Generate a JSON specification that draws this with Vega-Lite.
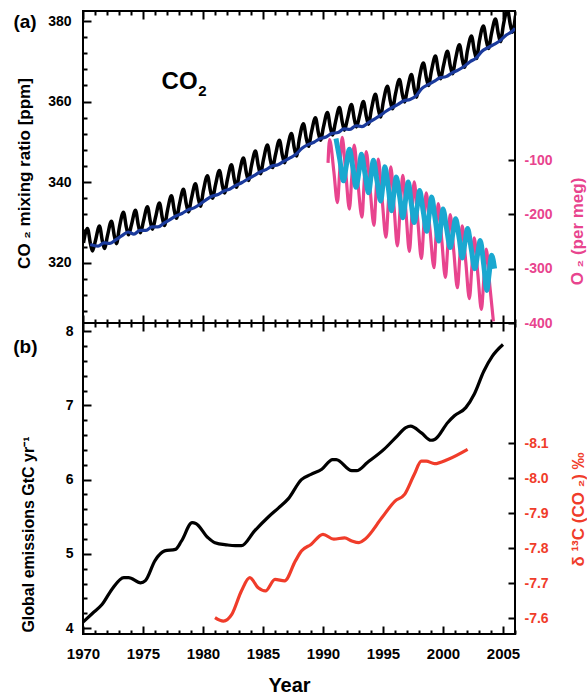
{
  "$schema": "https://vega.github.io/schema/vega-lite/v6.json",
  "padding": {"left": 12, "top": 9, "right": 0, "bottom": 0},
  "config": {
    "font": "Liberation Sans",
    "view": {"stroke": "black", "strokeWidth": 2},
    "axis": {"domain": false, "ticks": true, "tickColor": "black", "tickWidth": 2, "tickOpacity": 1, "zindex": 1, "labelFont": "Liberation Sans", "labelFontWeight": "bold", "labelFontSize": 14, "labelColor": "black", "titleFont": "Liberation Sans", "titleFontWeight": "bold", "titleColor": "black", "grid": false, "labelOverlap": false, "labelFlush": false, "labelBound": false},
    "text": {"font": "Liberation Sans", "fontWeight": "bold"}
  },
  "datasets": {
    "mlo": [
      {"year":1970.04,"value":324.9},{"year":1970.37,"value":328.5},{"year":1970.62,"value":324.7},{"year":1970.79,"value":322.9},
      {"year":1971.04,"value":325.5},{"year":1971.37,"value":329.1},{"year":1971.62,"value":325.3},{"year":1971.79,"value":323.5},
      {"year":1972.04,"value":326.7},{"year":1972.37,"value":330.3},{"year":1972.62,"value":326.5},{"year":1972.79,"value":324.7},
      {"year":1973.04,"value":328.9},{"year":1973.37,"value":332.5},{"year":1973.62,"value":328.7},{"year":1973.79,"value":326.9},
      {"year":1974.04,"value":329.4},{"year":1974.37,"value":333.0},{"year":1974.62,"value":329.2},{"year":1974.79,"value":327.4},
      {"year":1975.04,"value":330.3},{"year":1975.37,"value":333.9},{"year":1975.62,"value":330.1},{"year":1975.79,"value":328.3},
      {"year":1976.04,"value":331.2},{"year":1976.37,"value":334.8},{"year":1976.62,"value":331.0},{"year":1976.79,"value":329.2},
      {"year":1977.04,"value":333.0},{"year":1977.37,"value":336.6},{"year":1977.62,"value":332.8},{"year":1977.79,"value":331.0},
      {"year":1978.04,"value":334.6},{"year":1978.37,"value":338.2},{"year":1978.62,"value":334.4},{"year":1978.79,"value":332.6},
      {"year":1979.04,"value":336.0},{"year":1979.37,"value":339.6},{"year":1979.62,"value":335.8},{"year":1979.79,"value":334.0},
      {"year":1980.04,"value":338.0},{"year":1980.37,"value":341.6},{"year":1980.62,"value":337.8},{"year":1980.79,"value":336.0},
      {"year":1981.04,"value":339.3},{"year":1981.37,"value":342.9},{"year":1981.62,"value":339.1},{"year":1981.79,"value":337.3},
      {"year":1982.04,"value":340.7},{"year":1982.37,"value":344.3},{"year":1982.62,"value":340.5},{"year":1982.79,"value":338.7},
      {"year":1983.04,"value":342.4},{"year":1983.37,"value":346.0},{"year":1983.62,"value":342.2},{"year":1983.79,"value":340.4},
      {"year":1984.04,"value":344.1},{"year":1984.37,"value":347.7},{"year":1984.62,"value":343.9},{"year":1984.79,"value":342.1},
      {"year":1985.04,"value":345.6},{"year":1985.37,"value":349.2},{"year":1985.62,"value":345.4},{"year":1985.79,"value":343.6},
      {"year":1986.04,"value":346.8},{"year":1986.37,"value":350.4},{"year":1986.62,"value":346.6},{"year":1986.79,"value":344.8},
      {"year":1987.04,"value":348.5},{"year":1987.37,"value":352.1},{"year":1987.62,"value":348.3},{"year":1987.79,"value":346.5},
      {"year":1988.04,"value":350.9},{"year":1988.37,"value":354.5},{"year":1988.62,"value":350.7},{"year":1988.79,"value":348.9},
      {"year":1989.04,"value":352.4},{"year":1989.37,"value":356.0},{"year":1989.62,"value":352.2},{"year":1989.79,"value":350.4},
      {"year":1990.04,"value":353.7},{"year":1990.37,"value":357.3},{"year":1990.62,"value":353.5},{"year":1990.79,"value":351.7},
      {"year":1991.04,"value":354.9},{"year":1991.37,"value":358.5},{"year":1991.62,"value":354.7},{"year":1991.79,"value":352.9},
      {"year":1992.04,"value":355.7},{"year":1992.37,"value":359.3},{"year":1992.62,"value":355.5},{"year":1992.79,"value":353.7},
      {"year":1993.04,"value":356.4},{"year":1993.37,"value":360.0},{"year":1993.62,"value":356.2},{"year":1993.79,"value":354.4},
      {"year":1994.04,"value":358.2},{"year":1994.37,"value":361.8},{"year":1994.62,"value":358.0},{"year":1994.79,"value":356.2},
      {"year":1995.04,"value":360.2},{"year":1995.37,"value":363.8},{"year":1995.62,"value":360.0},{"year":1995.79,"value":358.2},
      {"year":1996.04,"value":361.9},{"year":1996.37,"value":365.5},{"year":1996.62,"value":361.7},{"year":1996.79,"value":359.9},
      {"year":1997.04,"value":363.1},{"year":1997.37,"value":366.7},{"year":1997.62,"value":362.9},{"year":1997.79,"value":361.1},
      {"year":1998.04,"value":366.0},{"year":1998.37,"value":369.6},{"year":1998.62,"value":365.8},{"year":1998.79,"value":364.0},
      {"year":1999.04,"value":367.7},{"year":1999.37,"value":371.3},{"year":1999.62,"value":367.5},{"year":1999.79,"value":365.7},
      {"year":2000.04,"value":368.9},{"year":2000.37,"value":372.5},{"year":2000.62,"value":368.7},{"year":2000.79,"value":366.9},
      {"year":2001.04,"value":370.5},{"year":2001.37,"value":374.1},{"year":2001.62,"value":370.3},{"year":2001.79,"value":368.5},
      {"year":2002.04,"value":372.7},{"year":2002.37,"value":376.3},{"year":2002.62,"value":372.5},{"year":2002.79,"value":370.7},
      {"year":2003.04,"value":375.2},{"year":2003.37,"value":378.8},{"year":2003.62,"value":375.0},{"year":2003.79,"value":373.2},
      {"year":2004.04,"value":376.9},{"year":2004.37,"value":380.5},{"year":2004.62,"value":376.7},{"year":2004.79,"value":374.9},
      {"year":2005.04,"value":379.2},{"year":2005.37,"value":382.8},{"year":2005.62,"value":379.0},{"year":2005.79,"value":377.2},
      {"year":2006.04,"value":381.3}
    ],
    "spo": [
      {"year":1970.6,"value":324.5},
      {"year":1971.25,"value":324.1},{"year":1971.75,"value":324.9},
      {"year":1972.25,"value":324.8},{"year":1972.75,"value":325.7},
      {"year":1973.25,"value":326.7},{"year":1973.75,"value":327.6},
      {"year":1974.25,"value":327.1},{"year":1974.75,"value":328.0},
      {"year":1975.25,"value":328.0},{"year":1975.75,"value":328.9},
      {"year":1976.25,"value":328.9},{"year":1976.75,"value":329.8},
      {"year":1977.25,"value":330.7},{"year":1977.75,"value":331.6},
      {"year":1978.25,"value":332.2},{"year":1978.75,"value":333.1},
      {"year":1979.25,"value":333.6},{"year":1979.75,"value":334.5},
      {"year":1980.25,"value":335.6},{"year":1980.75,"value":336.5},
      {"year":1981.25,"value":336.9},{"year":1981.75,"value":337.8},
      {"year":1982.25,"value":338.3},{"year":1982.75,"value":339.2},
      {"year":1983.25,"value":339.9},{"year":1983.75,"value":340.8},
      {"year":1984.25,"value":341.6},{"year":1984.75,"value":342.5},
      {"year":1985.25,"value":343.1},{"year":1985.75,"value":344.0},
      {"year":1986.25,"value":344.3},{"year":1986.75,"value":345.2},
      {"year":1987.25,"value":346.0},{"year":1987.75,"value":346.9},
      {"year":1988.25,"value":348.4},{"year":1988.75,"value":349.3},
      {"year":1989.25,"value":349.9},{"year":1989.75,"value":350.8},
      {"year":1990.25,"value":351.2},{"year":1990.75,"value":352.1},
      {"year":1991.25,"value":352.3},{"year":1991.75,"value":353.2},
      {"year":1992.25,"value":353.1},{"year":1992.75,"value":354.0},
      {"year":1993.25,"value":353.8},{"year":1993.75,"value":354.7},
      {"year":1994.25,"value":355.6},{"year":1994.75,"value":356.5},
      {"year":1995.25,"value":357.6},{"year":1995.75,"value":358.5},
      {"year":1996.25,"value":359.3},{"year":1996.75,"value":360.2},
      {"year":1997.25,"value":360.5},{"year":1997.75,"value":361.4},
      {"year":1998.25,"value":363.3},{"year":1998.75,"value":364.2},
      {"year":1999.25,"value":365.0},{"year":1999.75,"value":365.9},
      {"year":2000.25,"value":366.2},{"year":2000.75,"value":367.1},
      {"year":2001.25,"value":367.8},{"year":2001.75,"value":368.7},
      {"year":2002.25,"value":369.9},{"year":2002.75,"value":370.8},
      {"year":2003.25,"value":372.5},{"year":2003.75,"value":373.4},
      {"year":2004.25,"value":374.2},{"year":2004.75,"value":375.1},
      {"year":2005.25,"value":376.5},{"year":2005.75,"value":377.4},
      {"year":2006.0,"value":378.2}
    ],
    "alt": [
      {"year":1990.42,"value":-105},{"year":1990.55,"value":-62},{"year":1990.9,"value":-120},
      {"year":1991.2,"value":-178},{"year":1991.4,"value":-118},{"year":1991.6,"value":-58},{"year":1991.9,"value":-124},
      {"year":1992.2,"value":-190},{"year":1992.4,"value":-131},{"year":1992.6,"value":-72},{"year":1992.9,"value":-139},
      {"year":1993.25,"value":-205},{"year":1993.42,"value":-145},{"year":1993.6,"value":-84},{"year":1993.92,"value":-152},
      {"year":1994.25,"value":-220},{"year":1994.42,"value":-159},{"year":1994.6,"value":-98},{"year":1994.92,"value":-170},
      {"year":1995.25,"value":-242},{"year":1995.45,"value":-177},{"year":1995.65,"value":-112},{"year":1995.92,"value":-185},
      {"year":1996.2,"value":-258},{"year":1996.42,"value":-193},{"year":1996.65,"value":-128},{"year":1996.92,"value":-198},
      {"year":1997.2,"value":-268},{"year":1997.4,"value":-204},{"year":1997.6,"value":-140},{"year":1997.9,"value":-211},
      {"year":1998.2,"value":-281},{"year":1998.4,"value":-221},{"year":1998.6,"value":-160},{"year":1998.92,"value":-229},
      {"year":1999.25,"value":-298},{"year":1999.42,"value":-239},{"year":1999.6,"value":-180},{"year":1999.9,"value":-248},
      {"year":2000.2,"value":-316},{"year":2000.4,"value":-258},{"year":2000.6,"value":-200},{"year":2000.9,"value":-268},
      {"year":2001.2,"value":-335},{"year":2001.4,"value":-278},{"year":2001.6,"value":-221},{"year":2001.9,"value":-288},
      {"year":2002.2,"value":-355},{"year":2002.4,"value":-299},{"year":2002.6,"value":-243},{"year":2002.9,"value":-309},
      {"year":2003.2,"value":-375},{"year":2003.4,"value":-320},{"year":2003.6,"value":-264},{"year":2003.9,"value":-331},
      {"year":2004.2,"value":-397}
    ],
    "cgo": [
      {"year":1991.08,"value":-60},{"year":1991.4,"value":-99},{"year":1991.7,"value":-138},{"year":1991.95,"value":-109},
      {"year":1992.2,"value":-80},{"year":1992.5,"value":-115},{"year":1992.75,"value":-150},{"year":1993.0,"value":-120},
      {"year":1993.2,"value":-89},{"year":1993.5,"value":-125},{"year":1993.8,"value":-160},{"year":1994.0,"value":-130},
      {"year":1994.2,"value":-100},{"year":1994.5,"value":-138},{"year":1994.8,"value":-175},{"year":1995.0,"value":-144},
      {"year":1995.15,"value":-112},{"year":1995.45,"value":-152},{"year":1995.7,"value":-193},{"year":1995.9,"value":-162},
      {"year":1996.1,"value":-131},{"year":1996.4,"value":-169},{"year":1996.65,"value":-206},{"year":1996.88,"value":-173},
      {"year":1997.1,"value":-140},{"year":1997.35,"value":-178},{"year":1997.6,"value":-215},{"year":1997.85,"value":-186},
      {"year":1998.05,"value":-156},{"year":1998.35,"value":-194},{"year":1998.65,"value":-231},{"year":1998.85,"value":-200},
      {"year":1999.05,"value":-168},{"year":1999.35,"value":-209},{"year":1999.65,"value":-249},{"year":1999.82,"value":-220},
      {"year":2000.0,"value":-190},{"year":2000.3,"value":-226},{"year":2000.6,"value":-261},{"year":2000.82,"value":-235},
      {"year":2001.05,"value":-208},{"year":2001.35,"value":-244},{"year":2001.6,"value":-280},{"year":2001.82,"value":-253},
      {"year":2002.05,"value":-226},{"year":2002.35,"value":-263},{"year":2002.65,"value":-300},{"year":2002.88,"value":-274},
      {"year":2003.1,"value":-248},{"year":2003.4,"value":-294},{"year":2003.65,"value":-340},{"year":2003.85,"value":-308},
      {"year":2004.05,"value":-275},{"year":2004.3,"value":-300}
    ],
    "emis": [
      {"year":1970.0,"value":4.08},{"year":1970.8,"value":4.2},{"year":1971.6,"value":4.32},{"year":1972.4,"value":4.52},
      {"year":1973.4,"value":4.68},{"year":1973.8,"value":4.68},{"year":1974.8,"value":4.61},{"year":1975.2,"value":4.64},
      {"year":1976.0,"value":4.91},{"year":1976.8,"value":5.04},{"year":1977.7,"value":5.06},{"year":1978.2,"value":5.17},
      {"year":1979.1,"value":5.42},{"year":1979.4,"value":5.41},{"year":1980.4,"value":5.22},{"year":1981.0,"value":5.15},
      {"year":1982.0,"value":5.12},{"year":1982.7,"value":5.11},{"year":1983.2,"value":5.11},{"year":1984.3,"value":5.31},
      {"year":1985.4,"value":5.49},{"year":1986.3,"value":5.62},{"year":1987.1,"value":5.74},{"year":1988.2,"value":6.0},
      {"year":1989.0,"value":6.07},{"year":1989.9,"value":6.14},{"year":1990.8,"value":6.27},{"year":1991.1,"value":6.27},
      {"year":1992.4,"value":6.12},{"year":1992.8,"value":6.12},{"year":1993.7,"value":6.23},{"year":1995.1,"value":6.41},
      {"year":1996.2,"value":6.59},{"year":1996.9,"value":6.70},{"year":1997.3,"value":6.72},{"year":1998.2,"value":6.63},
      {"year":1999.0,"value":6.53},{"year":1999.3,"value":6.54},{"year":2000.4,"value":6.77},{"year":2000.95,"value":6.86},
      {"year":2001.9,"value":6.97},{"year":2002.6,"value":7.15},{"year":2003.4,"value":7.46},{"year":2004.1,"value":7.66},
      {"year":2005.0,"value":7.82}
    ],
    "d13c": [
      {"year":1981.0,"value":-7.602},{"year":1981.7,"value":-7.592},{"year":1982.4,"value":-7.611},{"year":1983.2,"value":-7.678},
      {"year":1983.9,"value":-7.716},{"year":1984.6,"value":-7.687},{"year":1985.2,"value":-7.678},{"year":1986.0,"value":-7.711},
      {"year":1986.8,"value":-7.707},{"year":1987.7,"value":-7.764},{"year":1988.2,"value":-7.792},{"year":1989.0,"value":-7.811},
      {"year":1990.0,"value":-7.84},{"year":1990.9,"value":-7.826},{"year":1991.8,"value":-7.83},{"year":1992.4,"value":-7.821},
      {"year":1993.0,"value":-7.816},{"year":1993.5,"value":-7.826},{"year":1994.9,"value":-7.887},{"year":1996.0,"value":-7.935},
      {"year":1996.8,"value":-7.954},{"year":1997.6,"value":-8.011},{"year":1998.2,"value":-8.049},{"year":1998.6,"value":-8.049},
      {"year":1999.3,"value":-8.042},{"year":2000.4,"value":-8.054},{"year":2002.05,"value":-8.083}
    ],
    "labelsA": [{"label":"(a)"}],
    "labelsB": [{"label":"(b)"}],
    "labelCO": [{"label":"CO"}],
    "labelSub": [{"label":"2"}]
  },
  "spacing": 0,
  "bounds": "flush",
  "vconcat": [
    {
      "width": 432,
      "height": 312,
      "layer": [
        {
          "layer": [
            {
              "data": {"name": "mlo"},
              "mark": {"type": "line", "color": "black", "strokeWidth": 3.5, "interpolate": "monotone", "clip": true},
              "encoding": {
                "x": {"field": "year", "type": "quantitative", "scale": {"domain": [1970, 2006], "nice": false, "zero": false},
                  "axis": {"orient": "bottom", "values": [1970,1975,1980,1985,1990,1995,2000,2005], "labels": false, "title": null, "offset": -8, "ticks": true, "tickSize": 8, "tickColor": "black", "tickWidth": 2, "tickOpacity": 1}},
                "y": {"field": "value", "type": "quantitative", "scale": {"domain": [305, 382.5], "nice": false, "zero": false},
                  "axis": {"orient": "left", "values": [320,340,360,380], "format": "d", "offset": -8, "ticks": true, "tickSize": 8, "tickColor": "black", "tickWidth": 2, "tickOpacity": 1, "labelPadding": 12,
                    "title": "CO ₂ mixing ratio [ppm]", "titleFontSize": 17, "titleX": -67, "titleY": 162, "titleAngle": 270, "titleBaseline": "middle", "titleAlign": "center"}}
              }
            },
            {
              "data": {"name": "spo"},
              "mark": {"type": "line", "color": "#1a3a9c", "strokeWidth": 3.2, "interpolate": "monotone", "clip": true},
              "encoding": {
                "x": {"field": "year", "type": "quantitative",
                  "axis": {"orient": "bottom", "values": [1971,1972,1973,1974,1976,1977,1978,1979,1981,1982,1983,1984,1986,1987,1988,1989,1991,1992,1993,1994,1996,1997,1998,1999,2001,2002,2003,2004,2006], "labels": false, "title": null, "offset": -4, "ticks": true, "tickSize": 4, "tickColor": "black", "tickWidth": 2, "tickOpacity": 1}},
                "y": {"field": "value", "type": "quantitative",
                  "axis": {"orient": "left", "values": [308,312,316,324,328,332,336,344,348,352,356,364,368,372,376], "labels": false, "title": null, "offset": -4, "ticks": true, "tickSize": 4, "tickColor": "black", "tickWidth": 2, "tickOpacity": 1}}
              }
            },
            {
              "data": {"name": "labelsA"},
              "mark": {"type": "text", "fontSize": 19, "align": "center", "baseline": "middle", "color": "black"},
              "encoding": {
                "x": {"datum": 1965.17, "type": "quantitative", "axis": null},
                "y": {"datum": 379.7, "type": "quantitative", "axis": null},
                "text": {"field": "label"}
              }
            },
            {
              "data": {"name": "labelCO"},
              "mark": {"type": "text", "fontSize": 24, "align": "left", "baseline": "middle", "color": "black"},
              "encoding": {
                "x": {"datum": 1976.55, "type": "quantitative", "axis": null},
                "y": {"datum": 364.9, "type": "quantitative", "axis": null},
                "text": {"field": "label"}
              }
            },
            {
              "data": {"name": "labelSub"},
              "mark": {"type": "text", "fontSize": 15, "align": "left", "baseline": "middle", "color": "black"},
              "encoding": {
                "x": {"datum": 1979.6, "type": "quantitative", "axis": null},
                "y": {"datum": 362.6, "type": "quantitative", "axis": null},
                "text": {"field": "label"}
              }
            }
          ],
          "resolve": {"axis": {"x": "independent", "y": "independent"}}
        },
        {
          "layer": [
            {
              "data": {"name": "alt"},
              "mark": {"type": "line", "color": "#e8448e", "strokeWidth": 3.2, "interpolate": "monotone", "clip": true},
              "encoding": {
                "x": {"field": "year", "type": "quantitative",
                  "axis": {"orient": "top", "values": [1970,1975,1980,1985,1990,1995,2000,2005], "labels": false, "title": null, "offset": -8, "ticks": true, "tickSize": 8, "tickColor": "black", "tickWidth": 2, "tickOpacity": 1}},
                "y": {"field": "value", "type": "quantitative", "scale": {"domain": [-400, 175], "nice": false, "zero": false},
                  "axis": {"orient": "right", "values": [-100, -200, -300, -400], "offset": -7, "ticks": true, "tickSize": 7, "tickColor": "black", "tickWidth": 2, "tickOpacity": 1, "labelPadding": 9,
                    "labelExpr": "'-' + format(abs(datum.value), 'd')", "labelColor": "#e8448e",
                    "title": "O ₂ (per meg)", "titleColor": "#e8448e", "titleFontSize": 17, "titleX": 69.5, "titleY": 220, "titleAngle": 270, "titleBaseline": "middle", "titleAlign": "center"}}
              }
            },
            {
              "data": {"name": "cgo"},
              "mark": {"type": "line", "color": "#1aa8d0", "strokeWidth": 5, "interpolate": "monotone", "clip": true},
              "encoding": {
                "x": {"field": "year", "type": "quantitative",
                  "axis": {"orient": "top", "values": [1971,1972,1973,1974,1976,1977,1978,1979,1981,1982,1983,1984,1986,1987,1988,1989,1991,1992,1993,1994,1996,1997,1998,1999,2001,2002,2003,2004,2006], "labels": false, "title": null, "offset": -4, "ticks": true, "tickSize": 4, "tickColor": "black", "tickWidth": 2, "tickOpacity": 1}},
                "y": {"field": "value", "type": "quantitative", "axis": null}
              }
            }
          ],
          "resolve": {"axis": {"x": "independent", "y": "independent"}}
        }
      ],
      "resolve": {"scale": {"y": "independent"}, "axis": {"x": "independent", "y": "independent"}}
    },
    {
      "width": 432,
      "height": 311,
      "layer": [
        {
          "layer": [
            {
              "data": {"name": "emis"},
              "mark": {"type": "line", "color": "black", "strokeWidth": 3.2, "interpolate": "monotone", "clip": true},
              "encoding": {
                "x": {"field": "year", "type": "quantitative", "scale": {"domain": [1970, 2006], "nice": false, "zero": false},
                  "axis": {"orient": "bottom", "values": [1970,1975,1980,1985,1990,1995,2000,2005], "format": "d", "offset": -8, "ticks": true, "tickSize": 8, "tickColor": "black", "tickWidth": 2, "tickOpacity": 1, "labelPadding": 12, "labelFontSize": 15,
                    "title": "Year", "titleFontSize": 20, "titlePadding": 14, "titleX": 206}},
                "y": {"field": "value", "type": "quantitative", "scale": {"domain": [3.92, 8.11], "nice": false, "zero": false},
                  "axis": {"orient": "left", "values": [4,5,6,7,8], "format": "d", "offset": -8, "ticks": true, "tickSize": 8, "tickColor": "black", "tickWidth": 2, "tickOpacity": 1, "labelPadding": 10,
                    "title": "Global emissions GtC yr⁻¹", "titleFontSize": 16, "titleX": -63, "titleY": 211, "titleAngle": 270, "titleBaseline": "middle", "titleAlign": "center"}}
              }
            },
            {
              "data": {"name": "labelsB"},
              "mark": {"type": "text", "fontSize": 19, "align": "center", "baseline": "middle", "color": "black"},
              "encoding": {
                "x": {"datum": 1965.2, "type": "quantitative",
                  "axis": {"orient": "bottom", "values": [1971,1972,1973,1974,1976,1977,1978,1979,1981,1982,1983,1984,1986,1987,1988,1989,1991,1992,1993,1994,1996,1997,1998,1999,2001,2002,2003,2004,2006], "labels": false, "title": null, "offset": -4, "ticks": true, "tickSize": 4, "tickColor": "black", "tickWidth": 2, "tickOpacity": 1}},
                "y": {"datum": 7.79, "type": "quantitative",
                  "axis": {"orient": "left", "values": [4.2,4.4,4.6,4.8,5.2,5.4,5.6,5.8,6.2,6.4,6.6,6.8,7.2,7.4,7.6,7.8], "labels": false, "title": null, "offset": -4, "ticks": true, "tickSize": 4, "tickColor": "black", "tickWidth": 2, "tickOpacity": 1}},
                "text": {"field": "label"}
              }
            }
          ],
          "resolve": {"axis": {"x": "independent", "y": "independent"}}
        },
        {
          "layer": [
            {
              "data": {"name": "d13c"},
              "mark": {"type": "line", "color": "#f03c2a", "strokeWidth": 3.2, "interpolate": "monotone", "clip": true},
              "encoding": {
                "x": {"field": "year", "type": "quantitative",
                  "axis": {"orient": "top", "values": [1970,1975,1980,1985,1990,1995,2000,2005], "labels": false, "title": null, "offset": -8, "ticks": true, "tickSize": 8, "tickColor": "black", "tickWidth": 2, "tickOpacity": 1}},
                "y": {"field": "value", "type": "quantitative", "scale": {"domain": [-8.444, -7.555], "reverse": true, "nice": false, "zero": false},
                  "axis": {"orient": "right", "values": [-8.1, -8.0, -7.9, -7.8, -7.7, -7.6], "offset": -7, "ticks": true, "tickSize": 7, "tickColor": "black", "tickWidth": 2, "tickOpacity": 1, "labelPadding": 9,
                    "labelExpr": "'-' + format(abs(datum.value), '.1f')", "labelColor": "#f03c2a",
                    "title": "δ ¹³C (CO ₂) ‰", "titleColor": "#f03c2a", "titleFontSize": 17, "titleX": 70, "titleY": 186, "titleAngle": 270, "titleBaseline": "middle", "titleAlign": "center"}}
              }
            },
            {
              "data": {"name": "d13c"},
              "mark": {"type": "line", "color": "#f03c2a", "strokeWidth": 3.2, "interpolate": "monotone", "clip": true, "opacity": 0},
              "encoding": {
                "x": {"field": "year", "type": "quantitative",
                  "axis": {"orient": "top", "values": [1971,1972,1973,1974,1976,1977,1978,1979,1981,1982,1983,1984,1986,1987,1988,1989,1991,1992,1993,1994,1996,1997,1998,1999,2001,2002,2003,2004,2006], "labels": false, "title": null, "offset": -4, "ticks": true, "tickSize": 4, "tickColor": "black", "tickWidth": 2, "tickOpacity": 1}},
                "y": {"field": "value", "type": "quantitative", "axis": null}
              }
            }
          ],
          "resolve": {"axis": {"x": "independent", "y": "independent"}}
        }
      ],
      "resolve": {"scale": {"y": "independent"}, "axis": {"x": "independent", "y": "independent"}}
    }
  ]
}
